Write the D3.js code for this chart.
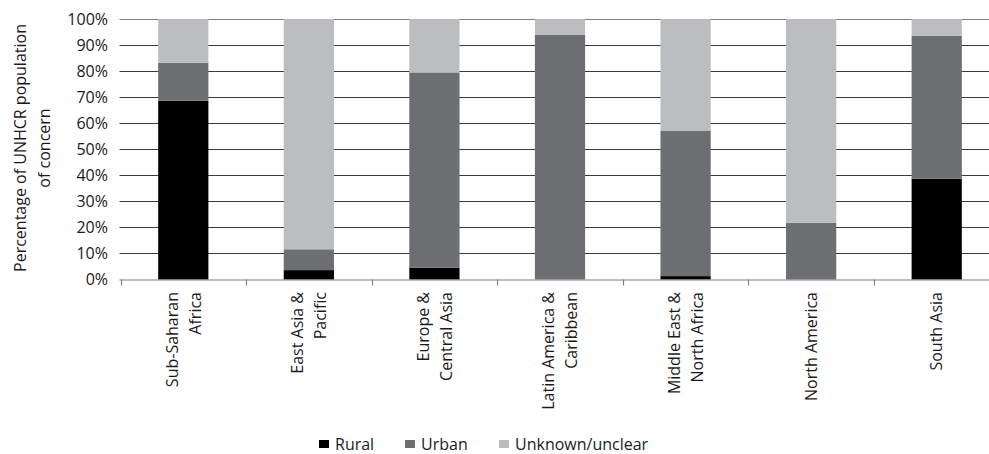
<!DOCTYPE html>
<html><head><meta charset="utf-8">
<script src="https://cdn.jsdelivr.net/npm/d3@7"></script>
<style>
body{margin:0;background:#fff;}
svg{display:block;font-family:"Open Sans",sans-serif;}
</style></head>
<body><svg id="c" width="989" height="454"></svg>
<script>
const categories = [
  ["Sub-Saharan","Africa"],
  ["East Asia &","Pacific"],
  ["Europe &","Central Asia"],
  ["Latin America &","Caribbean"],
  ["Middle East &","North Africa"],
  ["North America"],
  ["South Asia"]
];
const seriesNames = ["Rural","Urban","Unknown/unclear"];
const rural   = [68.6, 3.6, 4.5, 0.0, 1.3, 0.0, 38.7];
const urban   = [14.6, 8.0, 75.0, 94.0, 55.7, 21.8, 54.9];
const unknown = [16.8, 88.4, 20.5, 6.0, 43.0, 78.2, 6.4];
const colors = ["#000000","#6d6e71","#bcbdbf"];
const yTicks = [0,10,20,30,40,50,60,70,80,90,100];
const yTitle = ["Percentage of UNHCR population","of concern"];

(function(){
const svg = d3.select("#c");
const pL = 120.5, pR = 999.5, pT = 19, pB = 279.5;
const keys = categories.map((c,i)=>i);
const x = d3.scaleBand().domain(keys).range([pL,pR]).paddingInner(0.6).paddingOuter(0.3);
const y = d3.scaleLinear().domain([0,100]).range([pB,pT]);

// gridlines
svg.append("g").selectAll("line").data(yTicks.filter(d=>d>0)).join("line")
  .attr("x1",pL-1).attr("x2",989)
  .attr("y1",d=>Math.round(y(d))+0.5).attr("y2",d=>Math.round(y(d))+0.5)
  .attr("stroke",d=>d===100?"#7f7f7f":"#3a3a3a").attr("stroke-width",1);

// y tick labels
svg.append("g").selectAll("text").data(yTicks).join("text")
  .attr("x",108).attr("y",d=>y(d)).attr("dy","0.36em")
  .attr("text-anchor","end").attr("font-size",16).attr("fill","#1a1a1a")
  .text(d=>d+"%");

// stacked bars
const rows = keys.map(i=>({i, Rural:rural[i], Urban:urban[i], "Unknown/unclear":unknown[i]}));
const stack = d3.stack().keys(seriesNames)(rows);
svg.append("g").selectAll("g").data(stack).join("g")
  .attr("fill",(d,k)=>colors[k])
  .selectAll("rect").data(d=>d).join("rect")
  .attr("x",d=>x(d.data.i)).attr("width",x.bandwidth())
  .attr("y",d=>y(d[1])).attr("height",d=>Math.max(0,y(d[0])-y(d[1])));

// x axis line and ticks
svg.append("line").attr("x1",pL-1).attr("x2",989).attr("y1",pB+0.5).attr("y2",pB+0.5)
  .attr("stroke","#7f7f7f").attr("stroke-width",1.2);
svg.append("g").selectAll("line").data(keys).join("line")
  .attr("x1",i=>Math.round(i===0?pL:x(i)-x.step()*0.3)+0.5)
  .attr("x2",i=>Math.round(i===0?pL:x(i)-x.step()*0.3)+0.5)
  .attr("y1",pB).attr("y2",pB+6).attr("stroke","#7f7f7f").attr("stroke-width",1.2);

// x labels
const xl = svg.append("g");
categories.forEach((lines,i)=>{
  const cx = x(i)+x.bandwidth()/2;
  const n = lines.length, gap = 23;
  lines.forEach((t,j)=>{
    const off = (j-(n-1)/2)*gap;
    xl.append("text")
      .attr("transform",`translate(${cx+off},292) rotate(-90)`)
      .attr("text-anchor","end").attr("dy","0.36em")
      .attr("font-size",16).attr("fill","#1a1a1a").text(t);
  });
});

// y title
yTitle.forEach((t,j)=>{
  svg.append("text").attr("transform",`translate(${20+j*24},148) rotate(-90)`)
    .attr("text-anchor","middle").attr("dy","0.36em")
    .attr("font-size",16).attr("fill","#1a1a1a").text(t);
});

// legend
const legX = [319,405,499];
const lg = svg.append("g");
seriesNames.forEach((s,k)=>{
  lg.append("rect").attr("x",legX[k]).attr("y",440).attr("width",10).attr("height",8).attr("fill",colors[k]);
  lg.append("text").attr("x",legX[k]+16).attr("y",444).attr("dy","0.36em")
    .attr("font-size",16).attr("fill","#1a1a1a").text(s);
});
})();
</script></body></html>
